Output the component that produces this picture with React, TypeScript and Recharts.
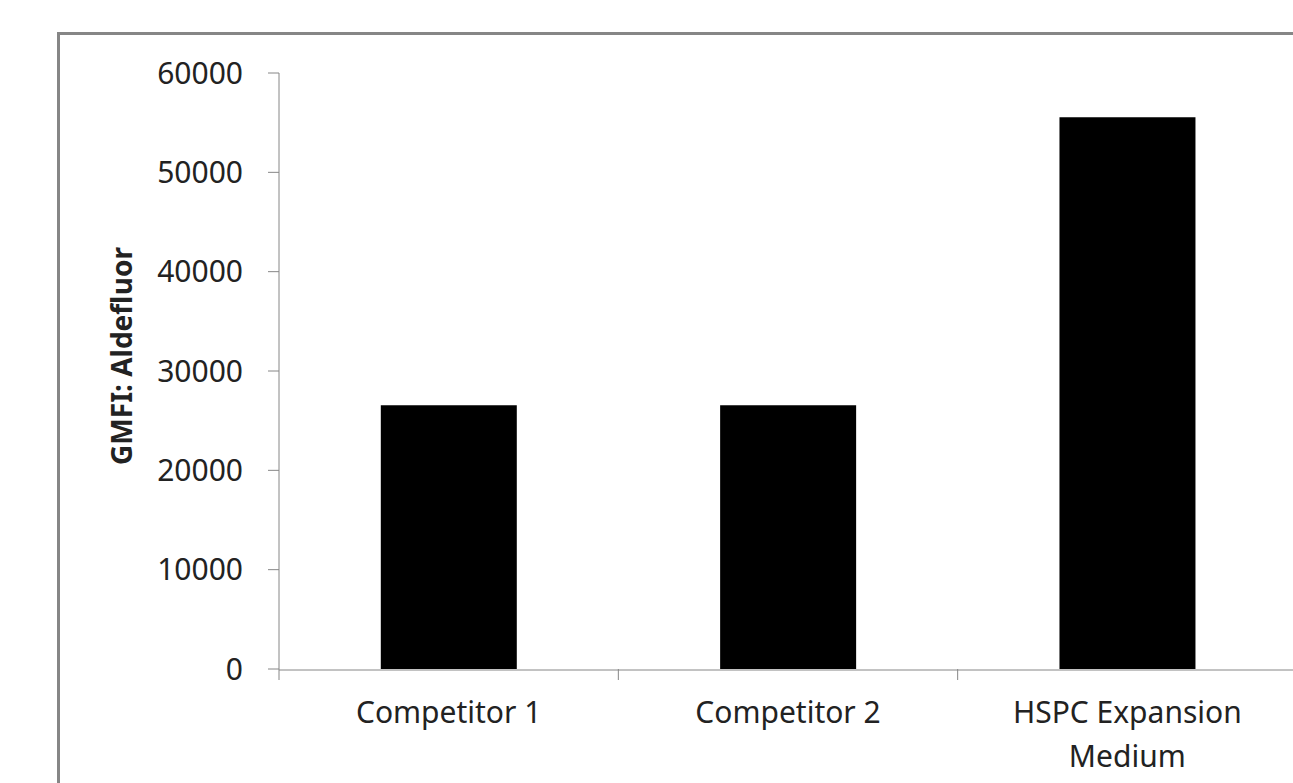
import { BarChart, Bar, XAxis, YAxis } from 'recharts';

const categories = ['Competitor 1', 'Competitor 2', 'HSPC Expansion Medium'];
const gmfiValues = [26550, 26550, 55550];
const yTicks = [0, 10000, 20000, 30000, 40000, 50000, 60000];
// tick label lines, as wrapped in the original
const categoryLines = [['Competitor 1'], ['Competitor 2'], ['HSPC Expansion', 'Medium']];
// category slots on a numeric scale; tick marks sit between categories
const slotCenters = [0.5, 1.5, 2.5];
const edgeTicks = [0, 1, 2, 3];

const data = categories.map((name, i) => ({ name, value: gmfiValues[i], slot: slotCenters[i] }));

const FONT = '"Noto Sans", sans-serif';
const AXIS = '#868686';
const TEXT = '#222222';

const CategoryTick = ({ x, y, payload }: any) => {
  const lines = categoryLines[payload.index] ?? [payload.value];
  return (
    <text x={x} y={y} textAnchor="middle" fill={TEXT} fontSize={30} fontFamily={FONT}>
      {lines.map((line: string, i: number) => (
        <tspan key={i} x={x} dy={i === 0 ? '0.71em' : 44}>
          {line}
        </tspan>
      ))}
    </text>
  );
};

export default function App() {
  return (
    <div
      style={{
        position: 'fixed',
        left: 0,
        top: 0,
        width: 1293,
        height: 783,
        overflow: 'hidden',
        background: '#fff',
      }}
    >
      <div
        style={{
          position: 'absolute',
          left: 57,
          top: 32,
          width: 1400,
          height: 900,
          border: `3px solid ${AXIS}`,
          boxSizing: 'border-box',
        }}
      />
      <div style={{ position: 'absolute', left: 0, top: 0 }}>
        <BarChart
          width={1300}
          height={783}
          data={data}
          margin={{ top: 73, right: 3, left: 0, bottom: 0 }}
          barCategoryGap="30%"
        >
          {/* tick marks between categories; sits right under the plot */}
          <XAxis
            xAxisId={0}
            dataKey="slot"
            type="number"
            domain={[0, 3]}
            allowDataOverflow
            ticks={edgeTicks}
            interval={0}
            height={1}
            tickFormatter={() => ''}
            axisLine={false}
            tickLine={{ stroke: AXIS }}
            tickSize={11}
          />
          <XAxis
            xAxisId={1}
            dataKey="name"
            height={113}
            stroke={AXIS}
            tickLine={false}
            tickSize={0}
            tickMargin={32}
            tick={<CategoryTick />}
            interval={0}
          />
          <YAxis
            width={279}
            domain={[0, 60000]}
            ticks={yTicks}
            stroke={AXIS}
            tickSize={11}
            tickMargin={25}
            tick={{ fill: TEXT, fontSize: 30, fontFamily: FONT }}
            label={{
              content: () => (
                <text
                  transform="translate(131.5, 356) rotate(-90)"
                  textAnchor="middle"
                  fill={TEXT}
                  fontSize={28}
                  fontWeight="bold"
                  fontFamily={FONT}
                >
                  GMFI: Aldefluor
                </text>
              ),
            }}
          />
          <Bar xAxisId={1} dataKey="value" fill="#000" isAnimationActive={false} />
        </BarChart>
      </div>
    </div>
  );
}
